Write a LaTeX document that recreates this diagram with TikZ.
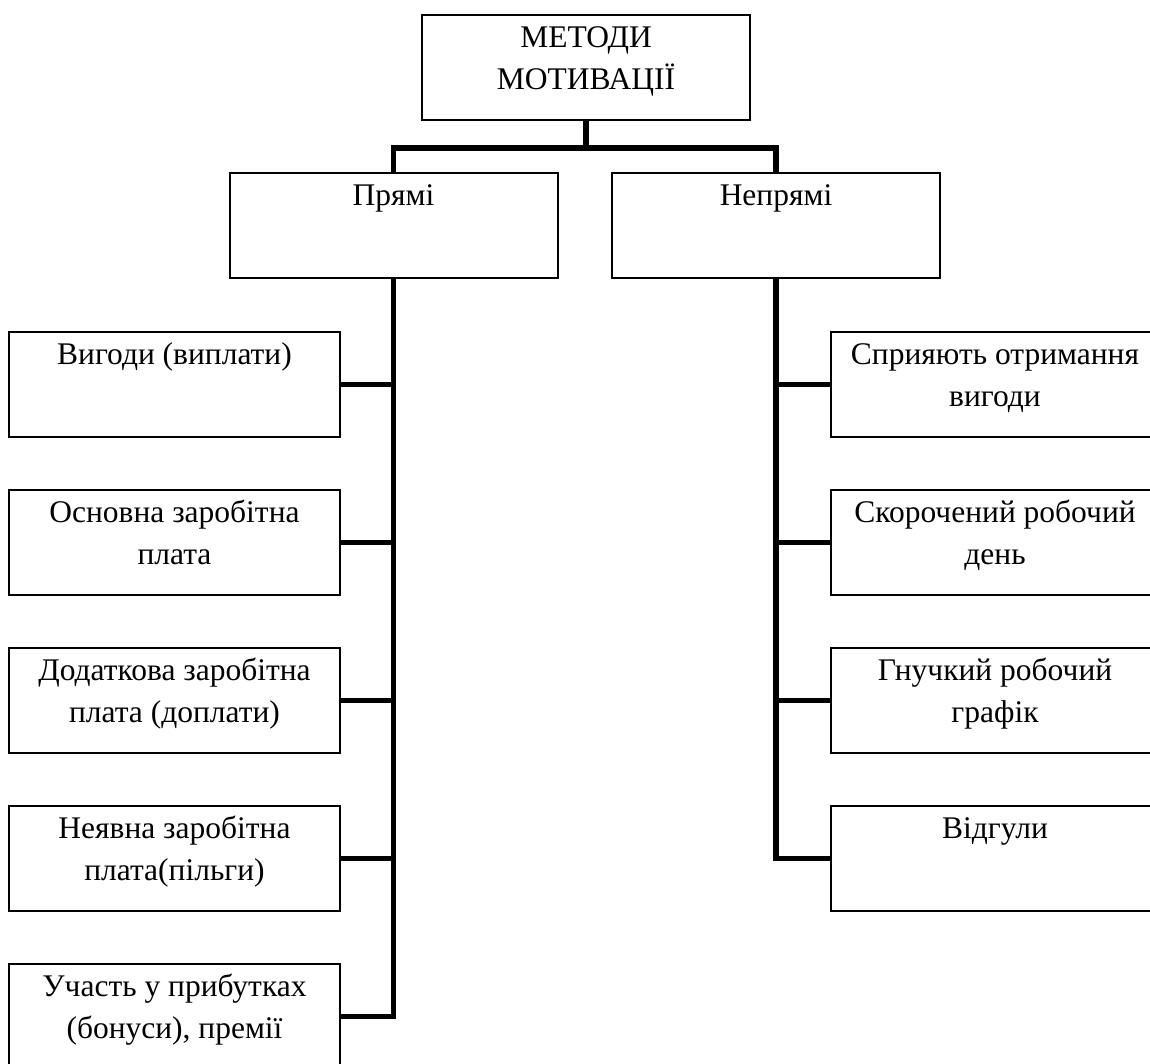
\documentclass[tikz,border=0pt]{standalone}
\usepackage{fontspec}
\setmainfont{Liberation Serif}
\newcommand\boxtxt[2][328pt]{\parbox[t][105pt][t]{#1}{\centering\rule{0pt}{32pt}#2\par}}
\tikzset{
  box/.style={draw, line width=2pt, inner sep=0pt, fill=white, anchor=north,
              font=\fontsize{31.5}{42}\selectfont},
  conn/.style={line width=5.5pt},
}
\begin{document}
\begin{tikzpicture}[x=1pt,y=-1pt]
\useasboundingbox (0,0) rectangle (1150,1063);
\fill[white] (0,0) rectangle (1150,1063);
\clip (0,0) rectangle (1150,1063);
% top levels
\node[box] (top) at (586,14) {\boxtxt{МЕТОДИ\\МОТИВАЦІЇ}};
\node[box] (pr) at (393.5,172) {\boxtxt{Прямі}};
\node[box] (np) at (776,172) {\boxtxt{Непрямі}};
% left column
\node[box] (l1) at (174.5,331) {\boxtxt[331pt]{Вигоди (виплати)}};
\node[box] (l2) at (174.5,489) {\boxtxt[331pt]{Основна заробітна\\плата}};
\node[box] (l3) at (174.5,647) {\boxtxt[331pt]{Додаткова заробітна\\плата (доплати)}};
\node[box] (l4) at (174.5,805) {\boxtxt[331pt]{Неявна заробітна\\плата(пільги)}};
\node[box] (l5) at (174.5,963) {\boxtxt[331pt]{Участь у прибутках\\(бонуси), премії}};
% right column
\node[box] (r1) at (995,331) {\boxtxt{Сприяють отримання\\вигоди}};
\node[box] (r2) at (995,489) {\boxtxt{Скорочений робочий\\день}};
\node[box] (r3) at (995,647) {\boxtxt{Гнучкий робочий\\графік}};
\node[box] (r4) at (995,805) {\boxtxt{Відгули}};
% connectors
\coordinate (bar) at (586,148);
\draw[conn] (top.south) -- (bar);
\draw[conn] (pr.north) |- (bar) -| (np.north);
\draw[conn] (pr.south) |- (l5.east);
\foreach \i in {1,2,3,4}{\draw[conn] (l\i.east) -- (l\i.east -| pr.south);}
\draw[conn] (np.south) |- (r4.west);
\foreach \i in {1,2,3}{\draw[conn] (r\i.west) -- (r\i.west -| np.south);}
\end{tikzpicture}
\end{document}
